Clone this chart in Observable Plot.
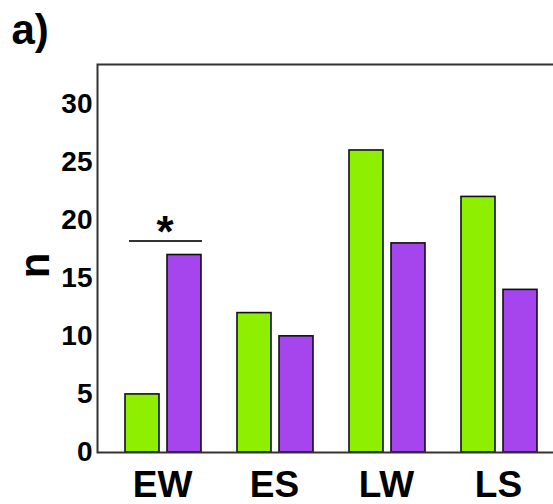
<!DOCTYPE html>
<html>
<head>
<meta charset="utf-8">
<script src="https://cdn.jsdelivr.net/npm/d3@7"></script>
<script src="https://cdn.jsdelivr.net/npm/@observablehq/plot@0.6"></script>
<style>
  html, body { margin: 0; padding: 0; background: #fff; overflow: hidden; }
  #chart svg { display: block; max-width: none !important; }
</style>
</head>
<body>
<div id="chart"></div>
<script>
// Counts per season/habitat group, two series
const groups = ["EW", "ES", "LW", "LS"];
const greenValues = [5, 12, 26, 22];
const purpleValues = [17, 10, 18, 14];
const yTicks = [0, 5, 10, 15, 20, 25, 30];

// Significance marker
const sigGroup = "EW";
const sigLevel = 18.2;
const sigLabel = "*";

const panelLabel = "a)";
const yLabel = "n";

const green = groups.map((g, i) => ({group: g, value: greenValues[i]}));
const purple = groups.map((g, i) => ({group: g, value: purpleValues[i]}));

const font = "'Liberation Sans', Arial, sans-serif";

const chart = Plot.plot({
  width: 570,
  height: 504,
  marginLeft: 97,
  marginRight: 0,
  marginTop: 64,
  marginBottom: 52,
  style: {fontFamily: font, fontWeight: "bold", color: "#000", background: "#fff", maxWidth: "none"},
  x: {type: "band", domain: groups, range: [106, 554], padding: 0},
  y: {domain: [0, 33.4]},
  marks: [
    Plot.barY(green, {x: "group", y: "value", fill: "#8fef00", stroke: "#111", strokeWidth: 1.6, insetLeft: 19, insetRight: 59}),
    Plot.barY(purple, {x: "group", y: "value", fill: "#a445ee", stroke: "#111", strokeWidth: 1.6, insetLeft: 61, insetRight: 17}),
    Plot.frame({stroke: "#333", strokeWidth: 2}),
    Plot.axisY({ticks: yTicks, tickSize: 0, tickPadding: 5, fontSize: 28, fontWeight: "bold", label: null}),
    Plot.axisX({tickSize: 0, tickPadding: 18, fontSize: 37, fontWeight: "bold", label: null}),
    Plot.tickY([sigLevel], {x: [sigGroup], y: (d) => d, stroke: "#333", strokeWidth: 2, insetLeft: 23, insetRight: 16}),
    Plot.text([sigLabel], {x: [sigGroup], y: [sigLevel], dx: 2.5, dy: 6, lineAnchor: "bottom", fontSize: 44, fontWeight: "bold", fill: "#000"}),
    Plot.text([yLabel], {y: [15], frameAnchor: "left", dx: -62, rotate: -90, fontSize: 42, fontWeight: "bold", fill: "#000"}),
    Plot.text([panelLabel], {frameAnchor: "top-left", dx: -86, dy: -21, textAnchor: "start", lineAnchor: "bottom", fontSize: 42, fontWeight: "bold", fill: "#000"})
  ]
});

document.getElementById("chart").appendChild(chart);
</script>
</body>
</html>
